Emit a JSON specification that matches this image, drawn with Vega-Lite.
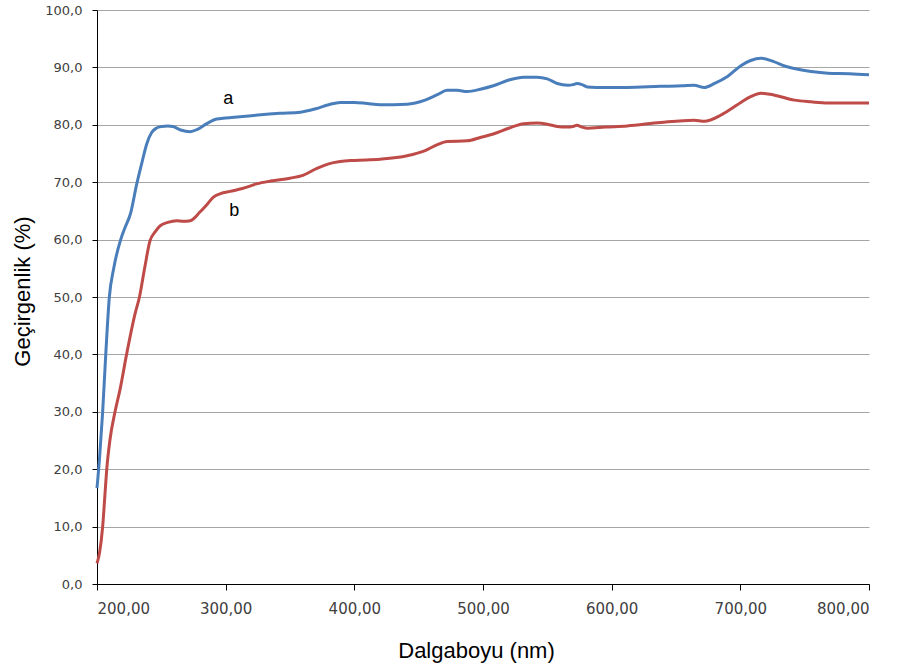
{
  "$schema": "https://vega.github.io/schema/vega-lite/v6.json",
  "width": 772,
  "height": 574,
  "autosize": "none",
  "padding": {"left": 97, "top": 10, "right": 31, "bottom": 81},
  "background": "white",
  "config": {"view": {"stroke": null}, "font": "DejaVu Sans"},
  "datasets": {
    "curves": [
      {"wl": 200, "T": 16.7, "s": "a"}, {"wl": 202, "T": 22, "s": "a"}, {"wl": 204.4, "T": 30, "s": "a"}, {"wl": 206.8, "T": 40, "s": "a"}, {"wl": 209.6, "T": 50, "s": "a"}, {"wl": 213, "T": 55, "s": "a"}, {"wl": 218.4, "T": 60, "s": "a"}, {"wl": 221.8, "T": 62.1, "s": "a"}, {"wl": 226, "T": 64.5, "s": "a"}, {"wl": 230.9, "T": 69.7, "s": "a"}, {"wl": 235, "T": 73.5, "s": "a"}, {"wl": 238.7, "T": 76.7, "s": "a"}, {"wl": 242.6, "T": 78.7, "s": "a"}, {"wl": 246, "T": 79.4, "s": "a"}, {"wl": 250.3, "T": 79.7, "s": "a"}, {"wl": 255, "T": 79.8, "s": "a"}, {"wl": 259, "T": 79.7, "s": "a"}, {"wl": 265, "T": 79.1, "s": "a"}, {"wl": 272.4, "T": 78.8, "s": "a"}, {"wl": 278, "T": 79.2, "s": "a"}, {"wl": 285.3, "T": 80.2, "s": "a"}, {"wl": 293, "T": 81.0, "s": "a"}, {"wl": 300, "T": 81.2, "s": "a"}, {"wl": 311, "T": 81.4, "s": "a"}, {"wl": 325, "T": 81.7, "s": "a"}, {"wl": 342, "T": 82.0, "s": "a"}, {"wl": 358, "T": 82.2, "s": "a"}, {"wl": 370, "T": 82.8, "s": "a"}, {"wl": 380, "T": 83.5, "s": "a"}, {"wl": 389, "T": 83.9, "s": "a"}, {"wl": 400, "T": 83.9, "s": "a"}, {"wl": 410, "T": 83.7, "s": "a"}, {"wl": 420, "T": 83.5, "s": "a"}, {"wl": 441, "T": 83.6, "s": "a"}, {"wl": 455, "T": 84.3, "s": "a"}, {"wl": 465, "T": 85.3, "s": "a"}, {"wl": 472, "T": 86.0, "s": "a"}, {"wl": 480, "T": 86.0, "s": "a"}, {"wl": 487.7, "T": 85.8, "s": "a"}, {"wl": 498, "T": 86.2, "s": "a"}, {"wl": 508, "T": 86.8, "s": "a"}, {"wl": 520, "T": 87.8, "s": "a"}, {"wl": 531.5, "T": 88.3, "s": "a"}, {"wl": 542, "T": 88.3, "s": "a"}, {"wl": 550, "T": 88.0, "s": "a"}, {"wl": 557.7, "T": 87.2, "s": "a"}, {"wl": 566, "T": 86.9, "s": "a"}, {"wl": 570, "T": 87.0, "s": "a"}, {"wl": 573, "T": 87.2, "s": "a"}, {"wl": 577, "T": 87.0, "s": "a"}, {"wl": 581, "T": 86.6, "s": "a"}, {"wl": 595, "T": 86.5, "s": "a"}, {"wl": 612, "T": 86.5, "s": "a"}, {"wl": 638, "T": 86.7, "s": "a"}, {"wl": 655, "T": 86.8, "s": "a"}, {"wl": 664, "T": 86.9, "s": "a"}, {"wl": 672, "T": 86.5, "s": "a"}, {"wl": 680, "T": 87.2, "s": "a"}, {"wl": 690, "T": 88.4, "s": "a"}, {"wl": 700.4, "T": 90.3, "s": "a"}, {"wl": 708, "T": 91.2, "s": "a"}, {"wl": 716, "T": 91.6, "s": "a"}, {"wl": 726, "T": 91.0, "s": "a"}, {"wl": 735, "T": 90.2, "s": "a"}, {"wl": 742, "T": 89.8, "s": "a"}, {"wl": 755, "T": 89.3, "s": "a"}, {"wl": 768, "T": 89.0, "s": "a"}, {"wl": 785, "T": 88.9, "s": "a"}, {"wl": 800, "T": 88.7, "s": "a"},
      {"wl": 200, "T": 3.6, "s": "b"}, {"wl": 202, "T": 5.5, "s": "b"}, {"wl": 204.4, "T": 10, "s": "b"}, {"wl": 206, "T": 15, "s": "b"}, {"wl": 207.5, "T": 19.8, "s": "b"}, {"wl": 210, "T": 25, "s": "b"}, {"wl": 214, "T": 30, "s": "b"}, {"wl": 218, "T": 34, "s": "b"}, {"wl": 223, "T": 40, "s": "b"}, {"wl": 229.6, "T": 47.1, "s": "b"}, {"wl": 233, "T": 50, "s": "b"}, {"wl": 237, "T": 55, "s": "b"}, {"wl": 241.2, "T": 59.8, "s": "b"}, {"wl": 245, "T": 61.3, "s": "b"}, {"wl": 249, "T": 62.4, "s": "b"}, {"wl": 255, "T": 63.0, "s": "b"}, {"wl": 262, "T": 63.3, "s": "b"}, {"wl": 267, "T": 63.2, "s": "b"}, {"wl": 272.4, "T": 63.3, "s": "b"}, {"wl": 280, "T": 64.8, "s": "b"}, {"wl": 285, "T": 66.0, "s": "b"}, {"wl": 290.5, "T": 67.4, "s": "b"}, {"wl": 296, "T": 68.0, "s": "b"}, {"wl": 303.5, "T": 68.4, "s": "b"}, {"wl": 313, "T": 68.9, "s": "b"}, {"wl": 324, "T": 69.7, "s": "b"}, {"wl": 335, "T": 70.2, "s": "b"}, {"wl": 350, "T": 70.7, "s": "b"}, {"wl": 360, "T": 71.2, "s": "b"}, {"wl": 370, "T": 72.3, "s": "b"}, {"wl": 380, "T": 73.2, "s": "b"}, {"wl": 389, "T": 73.6, "s": "b"}, {"wl": 400, "T": 73.8, "s": "b"}, {"wl": 420, "T": 74.0, "s": "b"}, {"wl": 441, "T": 74.6, "s": "b"}, {"wl": 455, "T": 75.5, "s": "b"}, {"wl": 465, "T": 76.6, "s": "b"}, {"wl": 472, "T": 77.1, "s": "b"}, {"wl": 487.7, "T": 77.2, "s": "b"}, {"wl": 498, "T": 77.8, "s": "b"}, {"wl": 508, "T": 78.4, "s": "b"}, {"wl": 520, "T": 79.4, "s": "b"}, {"wl": 531.5, "T": 80.2, "s": "b"}, {"wl": 542, "T": 80.3, "s": "b"}, {"wl": 550, "T": 80.1, "s": "b"}, {"wl": 557.7, "T": 79.7, "s": "b"}, {"wl": 565, "T": 79.6, "s": "b"}, {"wl": 570, "T": 79.7, "s": "b"}, {"wl": 573, "T": 79.9, "s": "b"}, {"wl": 577, "T": 79.6, "s": "b"}, {"wl": 581, "T": 79.4, "s": "b"}, {"wl": 595, "T": 79.6, "s": "b"}, {"wl": 612, "T": 79.8, "s": "b"}, {"wl": 638, "T": 80.4, "s": "b"}, {"wl": 664, "T": 80.8, "s": "b"}, {"wl": 672, "T": 80.6, "s": "b"}, {"wl": 685, "T": 81.7, "s": "b"}, {"wl": 693, "T": 82.8, "s": "b"}, {"wl": 700.4, "T": 83.9, "s": "b"}, {"wl": 708, "T": 84.9, "s": "b"}, {"wl": 716, "T": 85.5, "s": "b"}, {"wl": 726, "T": 85.2, "s": "b"}, {"wl": 742, "T": 84.3, "s": "b"}, {"wl": 755, "T": 84.0, "s": "b"}, {"wl": 768, "T": 83.8, "s": "b"}, {"wl": 785, "T": 83.8, "s": "b"}, {"wl": 800, "T": 83.8, "s": "b"}
    ],
    "labels": [
      {"wl": 302, "T": 84.5, "txt": "a"},
      {"wl": 306.6, "T": 65.0, "txt": "b"}
    ]
  },
  "encoding": {
    "x": {
      "field": "wl", "type": "quantitative",
      "scale": {"domain": [200, 800], "nice": false, "zero": false},
      "axis": {
        "title": "Dalgaboyu (nm)", "values": [200, 300, 400, 500, 600, 700, 800],
        "labelExpr": "replace(format(datum.value, '.2f'), '.', ',')",
        "grid": false, "domainColor": "#000000", "tickColor": "#000000", "tickSize": 6,
        "labelFontSize": 15, "labelColor": "#404040", "labelPadding": 11, "labelFont": "DejaVu Sans",
        "titleFontSize": 22, "titleFontWeight": "normal", "titleColor": "#000000", "titleFont": "Liberation Sans",
        "titleX": 379, "titleY": 73, "titleBaseline": "alphabetic", "titleAnchor": null
      }
    },
    "y": {
      "field": "T", "type": "quantitative",
      "scale": {"domain": [0, 100], "nice": false},
      "axis": {
        "title": "Geçirgenlik (%)", "values": [0, 10, 20, 30, 40, 50, 60, 70, 80, 90, 100],
        "labelExpr": "replace(format(datum.value, '.1f'), '.', ',')",
        "grid": true, "gridColor": "#a6a6a6", "gridWidth": 1,
        "domainColor": "#000000", "tickColor": "#000000", "tickSize": 5,
        "labelFontSize": 13, "labelColor": "#404040", "labelPadding": 10, "labelFont": "DejaVu Sans",
        "titleFontSize": 22, "titleFontWeight": "normal", "titleColor": "#000000", "titleFont": "Liberation Sans",
        "titleX": -75, "titleY": 281, "titleBaseline": "middle", "titleAnchor": null, "titleAngle": -90, "titleAlign": "center"
      }
    }
  },
  "layer": [
    {
      "data": {"name": "curves"},
      "mark": {"type": "line", "strokeWidth": 3, "interpolate": "monotone"},
      "encoding": {
        "color": {"field": "s", "type": "nominal", "scale": {"domain": ["a", "b"], "range": ["#4a7ebb", "#be4b48"]}, "legend": null}
      }
    },
    {
      "data": {"name": "labels"},
      "mark": {"type": "text", "fontSize": 18, "font": "Liberation Sans", "color": "#000000", "baseline": "middle", "align": "center"},
      "encoding": {"text": {"field": "txt"}}
    }
  ]
}
